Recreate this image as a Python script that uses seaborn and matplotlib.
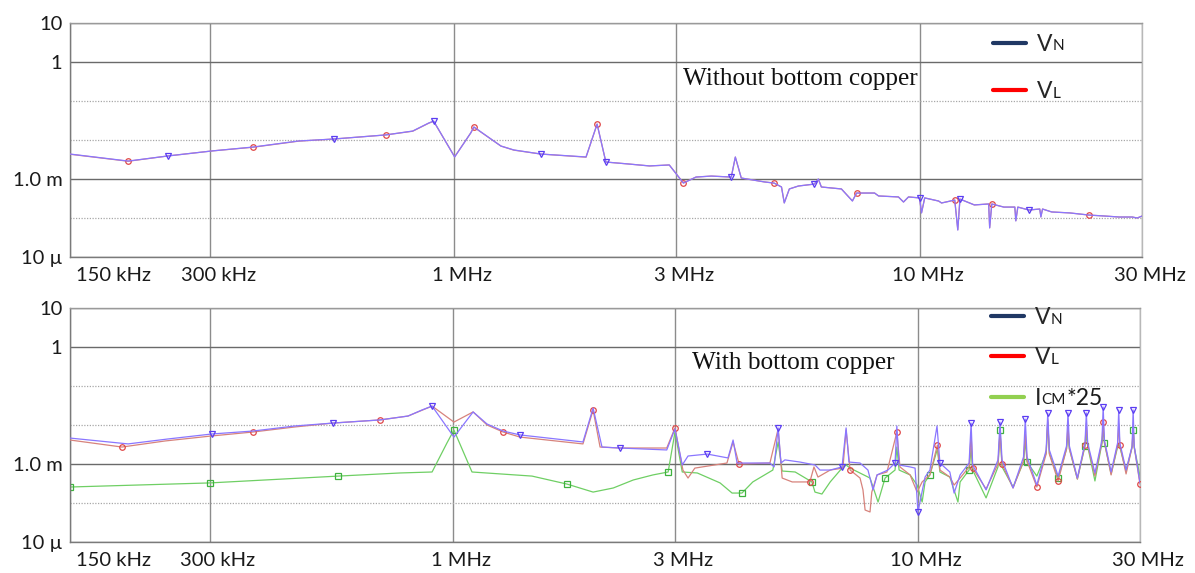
import numpy as np
import pandas as pd
import matplotlib
matplotlib.use("Agg")
import matplotlib.pyplot as plt
import seaborn as sns
from matplotlib.lines import Line2D
from matplotlib.ticker import NullLocator, NullFormatter, FixedLocator
from matplotlib.transforms import ScaledTranslation

# ---------------- data (frequency in MHz, level in dBV) ----------------
freq_top = [0.150, 0.200, 0.243, 0.303, 0.371, 0.464, 0.552, 0.714, 0.816, 0.883,
            0.905, 1.004, 1.087, 1.104, 1.262, 1.345, 1.537, 1.922, 2.03, 2.12,
            2.37, 2.63, 2.90, 3.11, 3.31, 3.57, 3.94, 4.02, 4.14, 4.64,
            4.87, 5.05, 5.12, 5.25, 5.49, 5.94, 6.06, 6.15, 6.79, 7.17,
            7.32, 8.00, 8.16, 9.00, 9.23, 9.46, 9.99, 10.09, 10.25, 10.98,
            11.14, 11.89, 12.07, 12.2, 13.1, 14.06, 14.13, 14.28, 15.15, 16.0,
            16.08, 16.24, 17.15, 18.1, 18.2, 18.35, 19.2, 21.0, 23.1, 25.0,
            26.8, 28.6, 29.3, 30.0]
vn_top_dbv = [-47.2, -50.8, -48.2, -45.6, -43.6, -40.5, -39.5, -37.4, -35.4, -31.3,
              -30.3, -48.7, -36.4, -33.3, -43.1, -45.1, -47.2, -48.7, -31.8, -51.3,
              -52.3, -53.3, -52.8, -62.1, -59.0, -58.5, -59.0, -48.7, -59.5, -61.5,
              -62.1, -64.1, -72.3, -65.1, -63.6, -62.6, -60.0, -64.1, -65.1, -71.3,
              -67.2, -67.2, -68.7, -69.2, -71.8, -69.2, -69.7, -77.4, -69.7, -71.3,
              -72.3, -70.8, -86.2, -70.3, -73.3, -72.8, -85.1, -72.8, -74.4, -74.4,
              -81.5, -74.4, -75.9, -75.4, -79.5, -75.4, -76.9, -77.4, -78.5, -79.0,
              -79.5, -79.5, -80.0, -79.0]
vl_top_dbv = [-47.3, -50.9, -48.2, -45.6, -43.7, -40.6, -39.5, -37.4, -35.5, -31.4,
              -30.4, -48.6, -36.4, -33.4, -43.1, -45.2, -47.2, -48.8, -31.9, -51.3,
              -52.3, -53.3, -52.8, -62.0, -59.0, -58.5, -59.0, -48.8, -59.5, -61.5,
              -62.1, -64.1, -72.2, -65.1, -63.6, -62.6, -60.1, -64.1, -65.1, -71.2,
              -67.2, -67.2, -68.7, -69.2, -71.8, -69.2, -69.7, -77.3, -69.7, -71.3,
              -72.3, -70.8, -86.0, -70.3, -73.3, -72.8, -85.0, -72.8, -74.4, -74.4,
              -81.4, -74.4, -75.9, -75.4, -79.4, -75.4, -76.9, -77.4, -78.5, -79.0,
              -79.5, -79.5, -80.0, -79.0]

freq_vn_bot = [0.150, 0.200, 0.243, 0.303, 0.371, 0.457, 0.552, 0.696, 0.800, 0.857,
               0.901, 1.004, 1.104, 1.183, 1.281, 1.393, 1.902, 2.00, 2.09, 2.28,
               2.88, 3.00, 3.11, 3.20, 3.52, 3.90, 4.00, 4.08, 4.80, 4.90,
               5.00, 5.07, 5.17, 5.57, 6.00, 6.15, 6.47, 6.86, 7.00, 7.10,
               7.50, 7.80, 8.00, 8.16, 8.61, 8.92, 9.00, 9.10, 9.61, 9.85,
               9.99, 10.35, 10.6, 10.98, 11.14, 11.7, 11.95, 12.31, 12.87,
               13.0, 13.1, 14.0, 14.85, 15.0, 15.15, 16.0, 16.85, 17.0, 17.15,
               18.0, 18.85, 19.0, 19.15, 20.0, 20.85, 21.0, 21.15, 22.0, 22.85,
               23.0, 23.15, 24.0, 24.85, 25.0, 25.15, 26.0, 26.85, 27.0, 27.15,
               28.0, 28.85, 29.0, 29.15, 30.0]
vn_bot_dbv = [-46.7, -49.7, -47.2, -44.6, -43.1, -40.5, -39.0, -37.4, -35.4, -32.3,
              -30.3, -46.2, -33.3, -39.5, -43.1, -45.1, -48.7, -31.3, -51.3, -51.8,
              -52.8, -42.0, -60.5, -55.9, -54.9, -56.9, -47.7, -59.5, -59.5, -61.5,
              -41.5, -59.5, -57.9, -59.0, -60.5, -63.1, -63.1, -61.5, -41.5, -59.0,
              -59.5, -63.1, -73.3, -65.6, -63.1, -59.5, -40.5, -60.5, -61.5, -62.1,
              -84.6, -66.7, -63.1, -40.5, -59.5, -64.1, -74.9, -65.6, -59.5,
              -39.0, -60.5, -73.3, -57.9, -38.5, -57.9, -72.3, -56.4, -37.0, -56.4,
              -70.8, -52.8, -33.8, -52.8, -66.2, -50.8, -33.8, -50.8, -67.2, -49.2,
              -33.8, -49.2, -64.6, -47.7, -30.8, -47.7, -64.1, -49.2, -32.3, -49.2,
              -63.1, -50.8, -32.3, -50.8, -69.7]

freq_vl_bot = [0.150, 0.194, 0.240, 0.303, 0.371, 0.457, 0.552, 0.696, 0.800, 0.901,
               1.004, 1.104, 1.183, 1.281, 1.393, 1.902, 2.00, 2.07, 2.28, 2.88,
               3.00, 3.12, 3.20, 3.31, 3.88, 4.00, 4.12, 4.80, 5.00, 5.10,
               5.36, 5.85, 5.97, 6.09, 6.47, 6.89, 7.00, 7.14, 7.50, 7.61,
               7.69, 7.88, 7.95, 8.16, 8.57, 9.00, 9.14, 9.61, 9.95, 10.2,
               10.6, 11.0, 11.14, 11.7, 11.95, 12.31, 12.87,
               13.0, 13.1, 14.0, 14.85, 15.0, 15.15, 16.0, 16.85, 17.0, 17.15,
               18.0, 18.85, 19.0, 19.15, 20.0, 20.85, 21.0, 21.15, 22.0, 22.85,
               23.0, 23.15, 24.0, 24.85, 25.0, 25.15, 26.0, 26.85, 27.0, 27.15,
               28.0, 28.85, 29.0, 29.15, 30.0]
vl_bot_dbv = [-47.7, -51.3, -48.2, -45.6, -43.6, -41.0, -39.0, -37.4, -35.4, -30.3,
              -38.5, -33.3, -40.0, -43.6, -46.2, -49.7, -32.3, -51.3, -51.8, -51.8,
              -41.5, -63.1, -67.2, -62.1, -59.5, -48.7, -60.0, -59.5, -42.0, -67.2,
              -69.2, -69.2, -61.5, -66.7, -63.1, -62.1, -42.6, -63.1, -67.2, -73.3,
              -83.6, -84.6, -74.4, -65.6, -64.1, -43.6, -61.5, -65.6, -74.4, -69.2,
              -65.6, -50.3, -63.1, -66.7, -70.8, -67.2, -61.5,
              -45.0, -62.1, -72.8, -60.0, -44.1, -60.0, -72.3, -58.5, -44.6, -58.5,
              -71.8, -54.9, -37.4, -54.9, -68.7, -52.3, -40.5, -52.3, -67.7, -50.3,
              -39.0, -50.3, -66.2, -48.7, -38.5, -48.7, -65.6, -50.3, -39.5, -50.3,
              -65.1, -51.3, -40.5, -51.3, -70.3]

freq_icm_bot = [0.150, 0.300, 0.566, 0.769, 0.901, 0.970, 1.004, 1.098, 1.478, 1.758,
                2.00, 2.21, 2.44, 2.69, 2.90, 3.00, 3.11, 3.35, 3.75, 3.98,
                4.18, 4.41, 4.87, 5.00, 5.10, 5.44, 5.91, 6.00, 6.21, 6.47,
                6.86, 7.00, 7.14, 7.88, 8.20, 8.49, 8.92, 9.00, 9.10, 9.61,
                9.95, 10.2, 10.35, 10.6, 11.0, 11.14, 11.7, 12.18, 12.31, 12.87,
                13.0, 13.1, 14.0, 14.85, 15.0, 15.15, 16.0, 16.85, 17.0, 17.15,
                18.0, 18.85, 19.0, 19.15, 20.0, 20.85, 21.0, 21.15, 22.0, 22.85,
                23.0, 23.15, 24.0, 24.85, 25.0, 25.15, 26.0, 26.85, 27.0, 27.15,
                28.0, 28.85, 29.0, 29.15, 30.0]
icm25_bot_dbv = [-71.8, -69.7, -66.2, -64.6, -64.1, -49.2, -42.6, -64.1, -66.2, -70.3,
                 -74.4, -72.3, -68.2, -65.6, -64.1, -43.6, -64.1, -64.6, -69.7, -74.9,
                 -74.9, -69.2, -63.1, -48.7, -63.6, -64.1, -69.2, -74.4, -75.4, -69.2,
                 -62.1, -60.5, -62.1, -67.2, -79.5, -67.2, -63.1, -51.3, -63.1, -65.6,
                 -70.8, -79.5, -69.2, -65.6, -52.3, -64.1, -66.7, -79.5, -69.2, -63.1,
                 -52.0, -63.1, -77.4, -61.5, -42.6, -61.5, -71.8, -59.0, -48.0, -59.0,
                 -66.2, -54.4, -38.5, -54.4, -67.2, -52.3, -44.6, -52.3, -67.7, -50.8,
                 -44.6, -50.8, -68.7, -49.2, -42.0, -49.2, -65.1, -51.3, -49.7, -51.3,
                 -63.6, -51.3, -42.6, -51.3, -66.2]

xtick_vals = [0.15, 0.3, 1, 3, 10, 30]
xtick_labels = ["150 kHz", "300 kHz", "1 MHz", "3 MHz", "10 MHz", "30 MHz"]
ytick_vals = [10, 1, 1e-3, 1e-5]
ytick_labels = ["10", "1", "1.0 m", "10 \u00b5"]
ydotted_vals = [1e-1, 1e-2, 1e-4]

# ---------------- style ----------------
sns.set_style("white")
plt.rcParams['font.family'] = ['Lato', 'DejaVu Sans']

W, H = 1195, 573
fig = plt.figure(figsize=(W / 100, H / 100), dpi=100)
ax1 = fig.add_axes([70 / W, 1 - 257 / H, 1072 / W, 234 / H])
ax2 = fig.add_axes([70 / W, 1 - 542 / H, 1070 / W, 234 / H])

C_VN_LINE, C_VN_MK = '#8a76ff', '#5b3df2'
C_VL_LINE, C_VL_MK = '#d7837c', '#e04848'
C_CM_LINE, C_CM_MK = '#6fcf64', '#3fb23f'


def to_volt(db):
    return 10 ** (np.asarray(db, dtype=float) / 20.0)


def style_axes(ax):
    ax.set_xscale('log')
    ax.set_yscale('log')
    ax.set_xlim(0.15, 30)
    ax.set_ylim(1e-5, 10)
    ax.xaxis.set_major_locator(FixedLocator(xtick_vals))
    ax.set_xticklabels(xtick_labels)
    ax.xaxis.set_minor_locator(NullLocator())
    ax.xaxis.set_minor_formatter(NullFormatter())
    ax.yaxis.set_major_locator(FixedLocator(ytick_vals))
    ax.set_yticklabels(ytick_labels)
    ax.yaxis.set_minor_locator(FixedLocator(ydotted_vals))
    ax.yaxis.set_minor_formatter(NullFormatter())
    ax.tick_params(axis='both', which='major', direction='out', length=3, width=0.8,
                   color='#8c8c8c', labelsize=14.5, labelcolor='#1a1a1a')
    ax.tick_params(axis='y', which='major', pad=2.5)
    ax.tick_params(axis='x', which='major', pad=4.5)
    ax.tick_params(axis='y', which='minor', length=0)
    ax.grid(True, which='major', axis='x', color='#8c8c8c', lw=1.0, ls='-')
    ax.grid(True, which='major', axis='y', color='#6a6a6a', lw=1.0, ls='-')
    ax.grid(True, which='minor', axis='y', color='#a8a8a8', lw=0.9, ls=(0, (1, 1.2)))
    ax.set_axisbelow(True)
    for side, col in [('left', '#7a7a7a'), ('bottom', '#7a7a7a'), ('top', '#9a9a9a'), ('right', '#b8b8b8')]:
        ax.spines[side].set_visible(True)
        ax.spines[side].set_color(col)
        ax.spines[side].set_linewidth(1.0)
    for lab, val in zip(ax.get_xticklabels(), xtick_vals):
        if val == 0.15:
            lab.set_horizontalalignment('left')
            off = 6 / 100
        else:
            off = 8 / 100
        lab.set_transform(lab.get_transform() + ScaledTranslation(off, 0, fig.dpi_scale_trans))
    ax.set_xlabel('')
    ax.set_ylabel('')


def draw(ax, f, db, color, marker, mcolor, msize, me, z):
    df = pd.DataFrame({'f': f, 'v': to_volt(db)})
    sns.lineplot(data=df, x='f', y='v', ax=ax, color=color, lw=0.9, estimator=None,
                 sort=False, marker=marker, markersize=msize, markerfacecolor='none',
                 markeredgecolor=mcolor, markeredgewidth=0.9, markevery=me,
                 zorder=z, legend=False)


for ax in (ax1, ax2):
    ax.set_xscale('log')
    ax.set_yscale('log')

# top panel
draw(ax1, freq_top, vl_top_dbv, C_VL_LINE, 'o', C_VL_MK, 4, (0.05, 0.12), 3)
draw(ax1, freq_top, vn_top_dbv, C_VN_LINE, 'v', C_VN_MK, 4.5, (0.11, 0.12), 4)
# bottom panel
draw(ax2, freq_icm_bot, icm25_bot_dbv, C_CM_LINE, 's', C_CM_MK, 5, (0.01, 0.12), 2)
draw(ax2, freq_vl_bot, vl_bot_dbv, C_VL_LINE, 'o', C_VL_MK, 4, (0.05, 0.12), 3)
draw(ax2, freq_vn_bot, vn_bot_dbv, C_VN_LINE, 'v', C_VN_MK, 4.5, (0.11, 0.12), 4)

style_axes(ax1)
style_axes(ax2)

ax1.text(0.572, 0.762, "Without bottom copper", transform=ax1.transAxes,
         family=['Liberation Serif', 'DejaVu Serif'], fontsize=18.2, va='center', ha='left',
         color='#111111')
ax2.text(0.581, 0.765, "With bottom copper", transform=ax2.transAxes,
         family=['Liberation Serif', 'DejaVu Serif'], fontsize=18.2, va='center', ha='left',
         color='#111111')


def add_legend(ax, colors, mains, subs, tails, anchor, spacing):
    handles = [Line2D([], [], color=c, lw=3) for c in colors]
    leg = ax.legend(handles, mains, loc='upper left', bbox_to_anchor=anchor,
                    frameon=False, fontsize=16.5, handlelength=1.45, handletextpad=0.45,
                    labelspacing=spacing, borderpad=0, borderaxespad=0)
    leg.set_zorder(10)
    for txt, sub, tail in zip(leg.get_texts(), subs, tails):
        a = ax.annotate(sub, xy=(1, 0), xycoords=txt, xytext=(0.3, 1.1),
                        textcoords='offset points', fontsize=11, va='bottom', ha='left',
                        annotation_clip=False, zorder=11, color='#1a1a1a')
        if tail:
            ax.annotate(tail, xy=(1, 0), xycoords=a, xytext=(0, -1.1),
                        textcoords='offset points', fontsize=16.5, va='bottom', ha='left',
                        annotation_clip=False, zorder=12, color='#1a1a1a')


add_legend(ax1, ['#203864', '#ff0000'], ['V', 'V'], ['N', 'L'], ['', ''],
           (0.861, 0.953), 1.15)
add_legend(ax2, ['#203864', '#ff0000', '#92d050'], ['V', 'V', 'I'], ['N', 'L', 'CM'],
           ['', '', '*25'], (0.861, 1.004), 0.84)

fig.canvas.draw()
fig.savefig('out.png', dpi=100)
